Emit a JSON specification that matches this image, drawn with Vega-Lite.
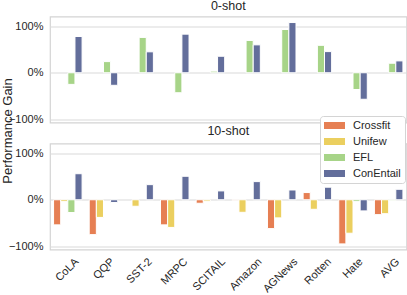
{
  "$schema": "https://vega.github.io/schema/vega-lite/v6.json",
  "padding": {"left": 0, "top": -1.5, "right": 0, "bottom": 0},
  "background": "white",
  "bounds": "flush",
  "spacing": 21,
  "config": {
    "font": "Liberation Sans",
    "view": {"stroke": "#d4d4d4", "strokeWidth": 1.2},
    "axis": {"labelColor": "#262626", "titleColor": "#262626", "labelFontSize": 11, "labelFont": "Liberation Sans", "titleFont": "Liberation Sans", "titleFontWeight": "normal"},
    "title": {"fontSize": 12.5, "fontWeight": "normal", "color": "#262626", "font": "Liberation Sans", "baseline": "alphabetic"}
  },
  "datasets": {
    "zero": [
      {"task": "CoLA", "method": "EFL", "value": -25}, {"task": "CoLA", "method": "ConEntail", "value": 78},
      {"task": "QQP", "method": "EFL", "value": 24}, {"task": "QQP", "method": "ConEntail", "value": -27},
      {"task": "SST-2", "method": "EFL", "value": 76}, {"task": "SST-2", "method": "ConEntail", "value": 45},
      {"task": "MRPC", "method": "EFL", "value": -43}, {"task": "MRPC", "method": "ConEntail", "value": 83},
      {"task": "SCITAIL", "method": "EFL", "value": 3.5}, {"task": "SCITAIL", "method": "ConEntail", "value": 35.5},
      {"task": "Amazon", "method": "EFL", "value": 69.5}, {"task": "Amazon", "method": "ConEntail", "value": 60},
      {"task": "AGNews", "method": "EFL", "value": 93}, {"task": "AGNews", "method": "ConEntail", "value": 108},
      {"task": "Rotten", "method": "EFL", "value": 59}, {"task": "Rotten", "method": "ConEntail", "value": 45.5},
      {"task": "Hate", "method": "EFL", "value": -36}, {"task": "Hate", "method": "ConEntail", "value": -57},
      {"task": "AVG", "method": "EFL", "value": 20.5}, {"task": "AVG", "method": "ConEntail", "value": 25.5}
    ],
    "ten": [
      {"task": "CoLA", "method": "Crossfit", "value": -54}, {"task": "CoLA", "method": "Unifew", "value": -4}, {"task": "CoLA", "method": "EFL", "value": -27.5}, {"task": "CoLA", "method": "ConEntail", "value": 56},
      {"task": "QQP", "method": "Crossfit", "value": -75}, {"task": "QQP", "method": "Unifew", "value": -38}, {"task": "QQP", "method": "ConEntail", "value": -6},
      {"task": "SST-2", "method": "Unifew", "value": -14}, {"task": "SST-2", "method": "ConEntail", "value": 32.5},
      {"task": "MRPC", "method": "Crossfit", "value": -54}, {"task": "MRPC", "method": "Unifew", "value": -59.5}, {"task": "MRPC", "method": "ConEntail", "value": 50.5},
      {"task": "SCITAIL", "method": "Crossfit", "value": -7.5}, {"task": "SCITAIL", "method": "Unifew", "value": -3}, {"task": "SCITAIL", "method": "ConEntail", "value": 19},
      {"task": "Amazon", "method": "Crossfit", "value": -1}, {"task": "Amazon", "method": "Unifew", "value": -27}, {"task": "Amazon", "method": "ConEntail", "value": 39},
      {"task": "AGNews", "method": "Crossfit", "value": -62}, {"task": "AGNews", "method": "Unifew", "value": -39}, {"task": "AGNews", "method": "ConEntail", "value": 21},
      {"task": "Rotten", "method": "Crossfit", "value": 15.5}, {"task": "Rotten", "method": "Unifew", "value": -20.5}, {"task": "Rotten", "method": "ConEntail", "value": 27},
      {"task": "Hate", "method": "Crossfit", "value": -95}, {"task": "Hate", "method": "Unifew", "value": -72}, {"task": "Hate", "method": "EFL", "value": -4}, {"task": "Hate", "method": "ConEntail", "value": -24},
      {"task": "AVG", "method": "Crossfit", "value": -32}, {"task": "AVG", "method": "Unifew", "value": -30}, {"task": "AVG", "method": "EFL", "value": -2}, {"task": "AVG", "method": "ConEntail", "value": 22.5}
    ]
  },
  "vconcat": [
    {
      "title": {"text": "0-shot", "offset": 4},
      "width": 356.5,
      "height": 106,
      "data": {"name": "zero"},
      "mark": {"type": "bar", "stroke": "white", "strokeWidth": 1},
      "encoding": {
        "x": {"field": "task", "type": "nominal", "sort": ["CoLA", "QQP", "SST-2", "MRPC", "SCITAIL", "Amazon", "AGNews", "Rotten", "Hate", "AVG"],
              "scale": {"paddingInner": 0, "paddingOuter": 0},
              "axis": {"labels": false, "ticks": false, "domain": false, "title": null}},
        "xOffset": {"field": "method", "type": "nominal", "scale": {"domain": ["Crossfit", "Unifew", "EFL", "ConEntail"], "paddingInner": 0, "paddingOuter": 0.5}},
        "y": {"field": "value", "type": "quantitative",
              "scale": {"domain": [-107, 121], "nice": false, "zero": false},
              "axis": {"values": [-100, 0, 100], "labelExpr": "datum.value < 0 ? '\u2212' + abs(datum.value) + '%' : datum.value + '%'",
                       "ticks": false, "domain": false, "gridColor": "#dadada", "gridWidth": 1.2, "labelPadding": 7,
                       "title": "Performance Gain", "titleFontSize": 13, "titleX": -38.5, "titleY": 114, "titleBaseline": "alphabetic", "titleAlign": "center", "titleAngle": 270}},
        "color": {"field": "method", "type": "nominal",
                  "scale": {"domain": ["Crossfit", "Unifew", "EFL", "ConEntail"], "range": ["#e67f53", "#ebcf5f", "#a7d488", "#636e9b"]},
                  "legend": {"title": null, "orient": "none", "legendX": 270, "legendY": 99.5,
                             "symbolType": "M-1,-0.33H1V0.33H-1Z", "symbolSize": 441, "symbolStrokeWidth": 0, "clipHeight": 11,
                             "labelFontSize": 11, "labelColor": "#262626", "labelFont": "Liberation Sans", "rowPadding": 4, "labelOffset": 8,
                             "fillColor": "white", "strokeColor": "#d4d4d4", "cornerRadius": 3, "padding": 4}}
      }
    },
    {
      "title": {"text": "10-shot", "offset": 6},
      "width": 356.5,
      "height": 106,
      "data": {"name": "ten"},
      "mark": {"type": "bar", "stroke": "white", "strokeWidth": 1},
      "encoding": {
        "x": {"field": "task", "type": "nominal", "sort": ["CoLA", "QQP", "SST-2", "MRPC", "SCITAIL", "Amazon", "AGNews", "Rotten", "Hate", "AVG"],
              "scale": {"paddingInner": 0, "paddingOuter": 0},
              "axis": {"labelAngle": -45, "labelAlign": "right", "labelBaseline": "top", "ticks": false, "domain": false, "title": null, "labelPadding": 6,
                       "labelOffset": {"expr": "[5,5,7,7,9,10,10,8,4,5][indexof(['CoLA','QQP','SST-2','MRPC','SCITAIL','Amazon','AGNews','Rotten','Hate','AVG'], datum.value)]"}}},
        "xOffset": {"field": "method", "type": "nominal", "scale": {"domain": ["Crossfit", "Unifew", "EFL", "ConEntail"], "paddingInner": 0, "paddingOuter": 0.5}},
        "y": {"field": "value", "type": "quantitative",
              "scale": {"domain": [-107, 121], "nice": false, "zero": false},
              "axis": {"values": [-100, 0, 100], "labelExpr": "datum.value < 0 ? '\u2212' + abs(datum.value) + '%' : datum.value + '%'",
                       "ticks": false, "domain": false, "gridColor": "#dadada", "gridWidth": 1.2, "labelPadding": 7, "title": null}},
        "color": {"field": "method", "type": "nominal",
                  "scale": {"domain": ["Crossfit", "Unifew", "EFL", "ConEntail"], "range": ["#e67f53", "#ebcf5f", "#a7d488", "#636e9b"]}}
      }
    }
  ]
}
